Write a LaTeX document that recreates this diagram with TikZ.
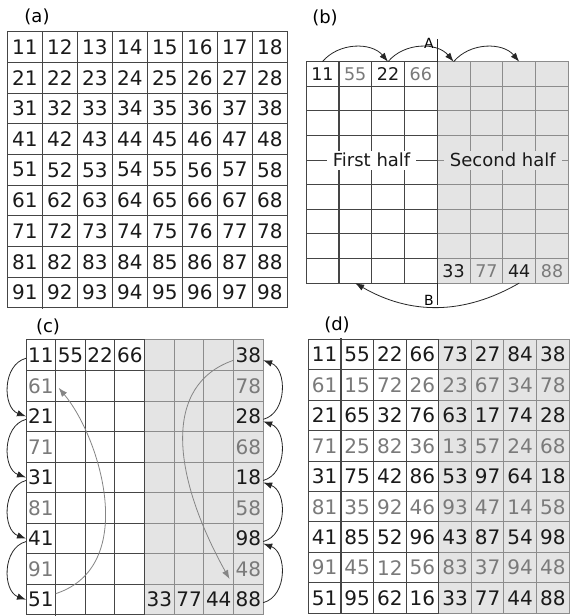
\documentclass[tikz,border=0pt]{standalone}
\usepackage{fontspec}
\setmainfont{DejaVu Sans}
\usetikzlibrary{arrows.meta}
\definecolor{shadecol}{HTML}{E4E4E4}
\definecolor{gridd}{HTML}{454545}
\definecolor{gridl}{HTML}{8C8C8C}
\definecolor{numk}{HTML}{1A1A1A}
\definecolor{numg}{HTML}{7A7A7A}
\definecolor{arrg}{HTML}{858585}
\def\CF{20}
\tikzset{
  cell/.style={inner sep=0pt, outer sep=0pt, minimum width=\PW pt, minimum height=\PH pt,
    font=\fontsize{\CF}{\CF}\selectfont},
  gline/.style={draw=gridd, line width=1pt, line cap=rect},
  glineR/.style={draw=gridl, line width=1pt, line cap=rect},
  lbl/.style={inner sep=0pt, font=\fontsize{18}{18}\selectfont, text=black},
  ablbl/.style={inner sep=0pt, font=\fontsize{14}{14}\selectfont, text=black},
  halftext/.style={inner xsep=6pt, inner ysep=2.5pt, font=\fontsize{18}{18}\selectfont, text=numk},
  arr/.style={-{Latex[length=9pt,width=6.5pt]}, line width=0.8pt, draw=black!85},
  garr/.style={-{Latex[length=9pt,width=6.5pt]}, line width=0.8pt, draw=arrg},
  tick/.style={line width=0.8pt, draw=black!85}
}
\newcommand\drawgrid[2]{%
  \ifnum#1=1 \fill[fill=shadecol] ({\PX+4*\PW},\PY) rectangle ({\PX+8*\PW},{\PY-9*\PH}); \fi
  \foreach \kk in {0,...,9}{
    \draw[gline] (\PX,{\PY-\kk*\PH}) -- ({\PX+4*\PW},{\PY-\kk*\PH});
    \draw[#2] ({\PX+4*\PW},{\PY-\kk*\PH}) -- ({\PX+8*\PW},{\PY-\kk*\PH});
  }
  \foreach \kk in {5,...,8}{\draw[#2] ({\PX+\kk*\PW},\PY) -- ({\PX+\kk*\PW},{\PY-9*\PH});}
  \foreach \kk in {0,2,3,4}{\draw[gline] ({\PX+\kk*\PW},\PY) -- ({\PX+\kk*\PW},{\PY-9*\PH});}
  \draw[gline,line width=1.6pt] ({\PX+\PW},\PY) -- ({\PX+\PW},{\PY-9*\PH});
}
\newcommand\rowsame[4]{%
  \foreach \vv [count=\jj from 0] in {#4}{%
    \node[cell,text=#3] (#1-#2-\jj) at ({\PX+(\jj+0.5)*\PW},{\PY-(#2+0.5)*\PH}) {\vv};}}
\newcommand\rowpairs[3]{%
  \foreach \cc/\vv [count=\jj from 0] in {#3}{%
    \node[cell,text=num\cc] (#1-#2-\jj) at ({\PX+(\jj+0.5)*\PW},{\PY-(#2+0.5)*\PH}) {\vv};}}
\begin{document}
\begin{tikzpicture}[x=1pt,y=1pt]
\useasboundingbox[fill=white] (0,0) rectangle (571,616);
% ---------------- (a)
\node[lbl] (la) at (37,599) {(a)};
\def\PX{7.3}\def\PY{584.3}\def\PW{35}\def\PH{30.7}\def\CF{20}
\drawgrid{0}{gline}
\rowsame{a}{0}{numk}{11,12,13,14,15,16,17,18}
\rowsame{a}{1}{numk}{21,22,23,24,25,26,27,28}
\rowsame{a}{2}{numk}{31,32,33,34,35,36,37,38}
\rowsame{a}{3}{numk}{41,42,43,44,45,46,47,48}
\rowsame{a}{4}{numk}{51,52,53,54,55,56,57,58}
\rowsame{a}{5}{numk}{61,62,63,64,65,66,67,68}
\rowsame{a}{6}{numk}{71,72,73,74,75,76,77,78}
\rowsame{a}{7}{numk}{81,82,83,84,85,86,87,88}
\rowsame{a}{8}{numk}{91,92,93,94,95,96,97,98}
% ---------------- (b)
\node[lbl] (lb) at (325,598) {(b)};
\def\PX{306}\def\PY{554.3}\def\PW{32.8}\def\PH{24.6}\def\CF{17.5}
\drawgrid{1}{glineR}
\rowpairs{b}{0}{k/11,g/55,k/22,g/66,k/{},k/{},k/{},k/{}}
\rowpairs{b}{8}{k/{},k/{},k/{},k/{},k/33,g/77,k/44,g/88}
\node[halftext,fill=white] (fh) at ({\PX+2*\PW},{\PY-4*\PH}) {First half};
\node[halftext,fill=shadecol] (sh) at ({\PX+6*\PW},{\PY-4*\PH}) {Second half};
\draw[arr] (b-0-0.north) to[bend left=50] (b-0-2.north);
\draw[arr] (b-0-2.north) to[bend left=50] (b-0-4.north);
\draw[arr] (b-0-4.north) to[bend left=50] (b-0-6.north);
\draw[arr] (b-8-6.south) to[bend left=30] (b-8-1.south);
\draw[tick] (b-0-4.north west) -- ++(0,23) coordinate (Atop);
\node[ablbl] (labA) at (429,573) {A};
\draw[tick] (b-8-4.south west) -- ++(0,-22) coordinate (Bbot);
\node[ablbl] (labB) at (429,316) {B};
% ---------------- (c)
\node[lbl] (lc) at (48,289) {(c)};
\def\PX{26}\def\PY{276}\def\PW{29.65}\def\PH{30.55}\def\CF{20}
\drawgrid{1}{glineR}
\rowsame{c}{0}{numk}{11,55,22,66,{},{},{},38}
\rowsame{c}{1}{numg}{61,{},{},{},{},{},{},78}
\rowsame{c}{2}{numk}{21,{},{},{},{},{},{},28}
\rowsame{c}{3}{numg}{71,{},{},{},{},{},{},68}
\rowsame{c}{4}{numk}{31,{},{},{},{},{},{},18}
\rowsame{c}{5}{numg}{81,{},{},{},{},{},{},58}
\rowsame{c}{6}{numk}{41,{},{},{},{},{},{},98}
\rowsame{c}{7}{numg}{91,{},{},{},{},{},{},48}
\rowsame{c}{8}{numk}{51,{},{},{},33,77,44,88}
\foreach \ra/\rb in {0/2,2/4,4/6,6/8}
  \draw[arr] ([yshift=-3pt]c-\ra-0.west) to[out=195,in=160,looseness=1.1] (c-\rb-0.west);
\foreach \ra/\rb in {8/6,6/4,4/2,2/0}
  \draw[arr] ([yshift=-3pt]c-\ra-7.east) to[out=15,in=-20,looseness=1.1] ([yshift=-5pt]c-\rb-7.east);
\draw[garr] ([yshift=6pt]c-8-0.east) to[out=18,in=-50,out distance=88pt,in distance=65pt] ([xshift=3pt,yshift=-2pt]c-1-0.east);
\draw[garr] ([yshift=-5pt]c-0-7.west) to[out=199,in=119,out distance=75pt,in distance=120pt] ([xshift=-4pt,yshift=-10pt]c-7-7.west);
% ---------------- (d)
\node[lbl] (ld) at (337,291) {(d)};
\def\PX{308.3}\def\PY{276.7}\def\PW{32.6}\def\PH{30.45}\def\CF{20}
\drawgrid{1}{glineR}
\rowsame{d}{0}{numk}{11,55,22,66,73,27,84,38}
\rowsame{d}{1}{numg}{61,15,72,26,23,67,34,78}
\rowsame{d}{2}{numk}{21,65,32,76,63,17,74,28}
\rowsame{d}{3}{numg}{71,25,82,36,13,57,24,68}
\rowsame{d}{4}{numk}{31,75,42,86,53,97,64,18}
\rowsame{d}{5}{numg}{81,35,92,46,93,47,14,58}
\rowsame{d}{6}{numk}{41,85,52,96,43,87,54,98}
\rowsame{d}{7}{numg}{91,45,12,56,83,37,94,48}
\rowsame{d}{8}{numk}{51,95,62,16,33,77,44,88}
\end{tikzpicture}
\end{document}
